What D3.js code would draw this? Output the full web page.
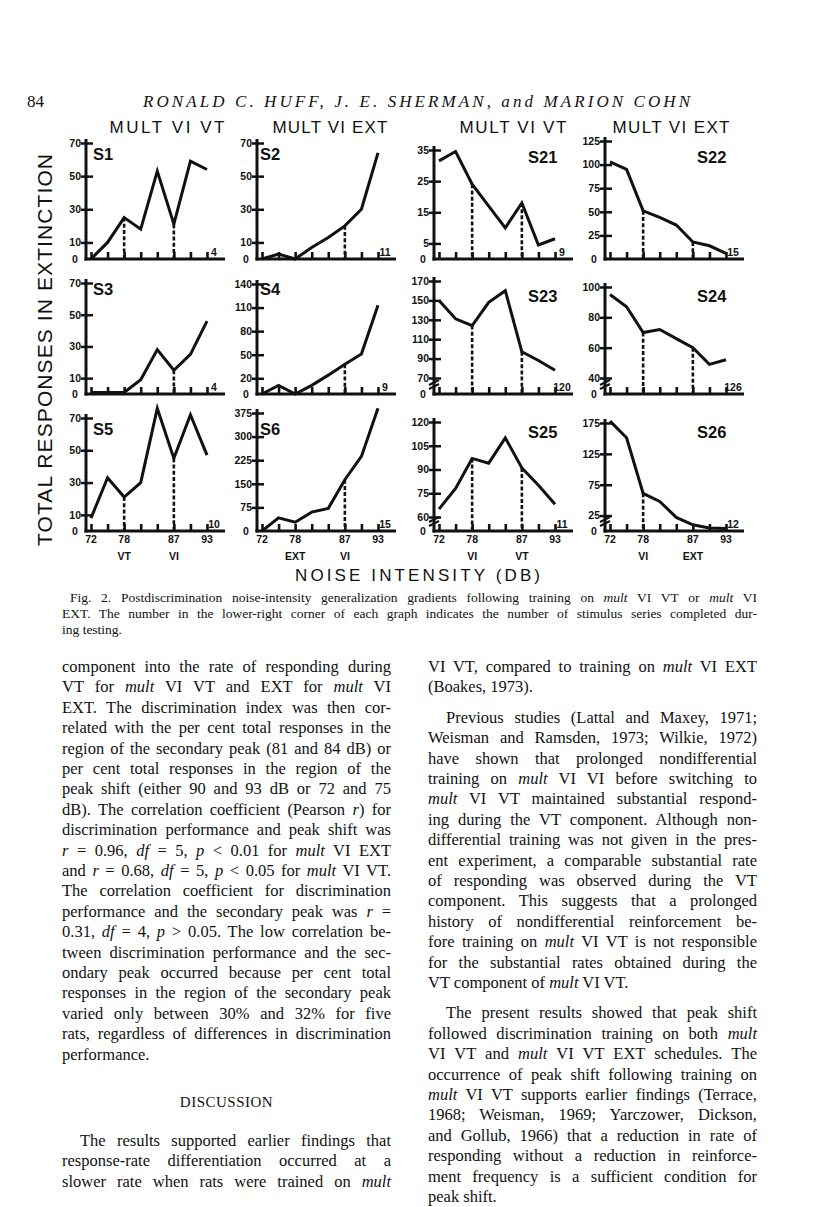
<!DOCTYPE html>
<html>
<head>
<meta charset="utf-8">
<script src="https://cdn.jsdelivr.net/npm/d3@7"></script>
<style>
body { margin: 0; background: #fff; }
svg text { fill: #111; }
</style>
</head>
<body>
<div id="page"></div>
<script>
// noise intensities (dB), same for every graph
const dB = [72, 75, 78, 81, 84, 87, 90, 93];
const dbLabels = [72, 78, 87, 93];

// total responses in extinction
const respS1  = [0, 10, 25, 18, 53, 21, 59, 54];
const respS2  = [0, 3, 0, 7, 13, 20, 30, 64];
const respS3  = [1, 1, 1, 9, 28, 15, 25, 46];
const respS4  = [0, 11, 0, 11, 24, 38, 51, 113];
const respS5  = [8, 33, 21, 30, 76, 45, 72, 47];
const respS6  = [0, 42, 28, 60, 72, 163, 237, 390];
const respS21 = [31.5, 34.5, 24, 17, 10, 18, 4.5, 6.5];
const respS22 = [103, 95, 51, 44, 36, 18, 14, 6];
const respS23 = [150, 131, 124, 148, 160, 97, 88, 78];
const respS24 = [95, 87, 70, 72, 66, 60, 49, 52];
const respS25 = [65, 78, 97, 94, 110, 91, 80, 68];
const respS26 = [178, 151, 61, 48, 22, 10, 5, 4];

// y tick labels
const ticksA   = [0, 10, 30, 50, 70];
const ticksS4  = [0, 20, 50, 80, 110, 140];
const ticksS6  = [0, 75, 150, 225, 300, 375];
const ticksS21 = [0, 5, 15, 25, 35];
const ticksS22 = [0, 25, 50, 75, 100, 125];
const ticksS23 = [0, 70, 90, 110, 130, 150, 170];
const ticksS24 = [0, 40, 60, 80, 100];
const ticksS25 = [0, 60, 75, 90, 105, 120];
const ticksS26 = [0, 25, 75, 125, 175];

// dB values where the dotted drop lines are drawn
const dropS1 = [78, 87], dropS2 = [87], dropS3 = [87], dropS4 = [87];
const dropS5 = [78, 87], dropS6 = [87], dropS21 = [78, 87], dropS22 = [78, 87];
const dropS23 = [78, 87], dropS24 = [78, 87], dropS25 = [78, 87], dropS26 = [78];

// number of stimulus series completed
const seriesDone = [4, 11, 9, 15, 4, 9, 120, 126, 10, 15, 11, 12];

const subjects = ['S1', 'S2', 'S21', 'S22', 'S3', 'S4', 'S23', 'S24', 'S5', 'S6', 'S25', 'S26'];
const colTitles = ['MULT VI VT', 'MULT VI EXT', 'MULT VI VT', 'MULT VI EXT'];
const compLabels = [['VT', 'VI'], ['EXT', 'VI'], ['VI', 'VT'], ['VI', 'EXT']];

const captionLines = [
    'Fig. 2. Postdiscrimination noise-intensity generalization gradients following training on _mult_ VI VT or _mult_ VI',
    'EXT. The number in the lower-right corner of each graph indicates the number of stimulus series completed dur-',
    'ing testing.'
];

const leftLines = [
    'component into the rate of responding during',
    'VT for _mult_ VI VT and EXT for _mult_ VI',
    'EXT. The discrimination index was then cor-',
    'related with the per cent total responses in the',
    'region of the secondary peak (81 and 84 dB) or',
    'per cent total responses in the region of the',
    'peak shift (either 90 and 93 dB or 72 and 75',
    'dB). The correlation coefficient (Pearson _r_) for',
    'discrimination performance and peak shift was',
    '_r_ = 0.96, _df_ = 5, _p_ < 0.01 for _mult_ VI EXT',
    'and _r_ = 0.68, _df_ = 5, _p_ < 0.05 for _mult_ VI VT.',
    'The correlation coefficient for discrimination',
    'performance and the secondary peak was _r_ =',
    '0.31, _df_ = 4, _p_ > 0.05. The low correlation be-',
    'tween discrimination performance and the sec-',
    'ondary peak occurred because per cent total',
    'responses in the region of the secondary peak',
    'varied only between 30% and 32% for five',
    'rats, regardless of differences in discrimination',
    'performance.'
];
const discussLines = [
    'The results supported earlier findings that',
    'response-rate differentiation occurred at a',
    'slower rate when rats were trained on _mult_'
];
const rightLines = [
    'VI VT, compared to training on _mult_ VI EXT',
    '(Boakes, 1973).',
    'Previous studies (Lattal and Maxey, 1971;',
    'Weisman and Ramsden, 1973; Wilkie, 1972)',
    'have shown that prolonged nondifferential',
    'training on _mult_ VI VI before switching to',
    '_mult_ VI VT maintained substantial respond-',
    'ing during the VT component. Although non-',
    'differential training was not given in the pres-',
    'ent experiment, a comparable substantial rate',
    'of responding was observed during the VT',
    'component. This suggests that a prolonged',
    'history of nondifferential reinforcement be-',
    'fore training on _mult_ VI VT is not responsible',
    'for the substantial rates obtained during the',
    'VT component of _mult_ VI VT.',
    'The present results showed that peak shift',
    'followed discrimination training on both _mult_',
    'VI VT and _mult_ VI VT EXT schedules. The',
    'occurrence of peak shift following training on',
    '_mult_ VI VT supports earlier findings (Terrace,',
    '1968; Weisman, 1969; Yarczower, Dickson,',
    'and Gollub, 1966) that a reduction in rate of',
    'responding without a reduction in reinforce-',
    'ment frequency is a sufficient condition for',
    'peak shift.'
];

// ---- layout ----
const colX = [86, 257, 434, 605];      // y axis position of each column
const rowY = [259, 394, 531];          // x axis (zero) line of each row
const panelH = [116, 116, 109, 118, 111, 110, 113, 107, 113, 118, 109, 108];
const breakGap = [0, 0, 0, 0, 0, 0, 16, 16, 0, 0, 14, 0];
const breakMark = [0, 0, 0, 0, 0, 0, 1, 1, 0, 0, 1, 1];

const panelData = [respS1, respS2, respS21, respS22, respS3, respS4, respS23, respS24, respS5, respS6, respS25, respS26];
const panelTicks = [ticksA, ticksA, ticksS21, ticksS22, ticksA, ticksS4, ticksS23, ticksS24, ticksA, ticksS6, ticksS25, ticksS26];
const panelDrops = [dropS1, dropS2, dropS21, dropS22, dropS3, dropS4, dropS23, dropS24, dropS5, dropS6, dropS25, dropS26];

const sans = 'Liberation Sans, Arial, sans-serif';
const serif = 'Liberation Serif, Times New Roman, serif';

const svg = d3.select('#page')
    .append('svg')
    .attr('width', 816)
    .attr('height', 1207);

// header
svg.append('text')
    .attr('x', 27).attr('y', 107)
    .style('font-family', serif).style('font-size', '17px')
    .text('84');
svg.append('text')
    .attr('x', 143).attr('y', 107)
    .style('font-family', serif).style('font-size', '17px').style('font-style', 'italic')
    .attr('textLength', 547).attr('lengthAdjust', 'spacing')
    .text('RONALD C. HUFF, J. E. SHERMAN, and MARION COHN');

// column titles
const titleX = [167, 330, 513, 671], titleW = [115, 115, 107, 117];
svg.selectAll('.coltitle')
    .data(colTitles)
    .join('text')
    .attr('class', 'coltitle')
    .attr('x', (d, i) => titleX[i] - titleW[i] / 2)
    .attr('y', 133)
    .attr('textLength', (d, i) => titleW[i])
    .attr('lengthAdjust', 'spacing')
    .style('font-family', sans).style('font-size', '17px')
    .text(d => d);

// y title
svg.append('text')
    .attr('transform', 'translate(52,350) rotate(-90)')
    .attr('x', -196).attr('y', 0)
    .attr('textLength', 392).attr('lengthAdjust', 'spacing')
    .style('font-family', sans).style('font-size', '21px')
    .text('TOTAL RESPONSES IN EXTINCTION');

// x title
svg.append('text')
    .attr('x', 295).attr('y', 581)
    .attr('textLength', 245).attr('lengthAdjust', 'spacing')
    .style('font-family', sans).style('font-size', '17px')
    .text('NOISE INTENSITY (DB)');

// ---- the twelve graphs ----
subjects.forEach((name, i) => {
    const col = i % 4, row = Math.floor(i / 4);
    const x0 = colX[col], y0 = rowY[row], h = panelH[i];
    const ticks = panelTicks[i];
    const top = ticks[ticks.length - 1];
    const brk = breakGap[i];

    const x = d3.scaleLinear().domain([72, 93]).range([x0 + 5, x0 + 121]);
    const y = brk
        ? d3.scaleLinear().domain([ticks[1], top]).range([y0 - brk, y0 - h])
        : d3.scaleLinear().domain([0, top]).range([y0, y0 - h]);

    const g = svg.append('g').attr('class', 'panel ' + name);

    // axis lines
    g.append('line')
        .attr('x1', x0).attr('x2', x0)
        .attr('y1', y0 + 1.5).attr('y2', y0 - h - 4)
        .attr('stroke', '#111').attr('stroke-width', 3);
    g.append('line')
        .attr('x1', x0 - 1.5).attr('x2', x0 + 139)
        .attr('y1', y0).attr('y2', y0)
        .attr('stroke', '#111').attr('stroke-width', 3);

    // y ticks
    const yAxis = d3.axisLeft(y)
        .tickValues(ticks.slice(1))
        .tickSize(-7)
        .tickPadding(5)
        .tickFormat(d3.format('d'));
    const gy = g.append('g')
        .attr('transform', 'translate(' + x0 + ',0)')
        .call(yAxis);
    gy.select('.domain').remove();
    gy.selectAll('line').attr('x1', -5).attr('stroke', '#111').attr('stroke-width', 2.5);
    gy.selectAll('text')
        .style('font-family', sans).style('font-size', '10.5px').style('font-weight', 'bold')
        .attr('fill', '#111');

    g.append('text')
        .attr('x', x0 - 11).attr('y', y0 + 4)
        .attr('text-anchor', 'middle')
        .style('font-family', sans).style('font-size', '10.5px').style('font-weight', 'bold')
        .text('0');

    if (breakMark[i]) {
        [0, 4].forEach(off => {
            g.append('line')
                .attr('x1', x0 - 5).attr('x2', x0 + 5)
                .attr('y1', y0 - 5 - off).attr('y2', y0 - 10 - off)
                .attr('stroke', '#111').attr('stroke-width', 2);
        });
    }

    // x ticks
    const xAxis = d3.axisBottom(x)
        .tickValues(dB)
        .tickSize(-7)
        .tickFormat('');
    const gx = g.append('g')
        .attr('transform', 'translate(0,' + y0 + ')')
        .call(xAxis);
    gx.select('.domain').remove();
    gx.selectAll('line').attr('stroke', '#111').attr('stroke-width', 2.6);

    const pts = dB.map((d, k) => ({db: d, v: panelData[i][k]}));

    // dotted drop lines
    g.selectAll('.drop')
        .data(pts.filter(p => panelDrops[i].includes(p.db)))
        .join('line')
        .attr('class', 'drop')
        .attr('x1', d => x(d.db)).attr('x2', d => x(d.db))
        .attr('y1', d => y(d.v)).attr('y2', y0)
        .attr('stroke', '#111').attr('stroke-width', 2.6)
        .attr('stroke-dasharray', '4,2.2');

    // gradient
    const line = d3.line()
        .x(d => x(d.db))
        .y(d => y(d.v));
    g.append('path')
        .datum(pts)
        .attr('d', line)
        .attr('fill', 'none')
        .attr('stroke', '#111')
        .attr('stroke-width', 3)
        .attr('stroke-linejoin', 'miter');

    // subject label
    const leftSide = col < 2;
    const labX = leftSide ? x0 + [7, 3][col] : x0 + [94, 92][col - 2];
    const labY = leftSide ? [160, 295, 435][row] : [163, 302, 438][row];
    g.append('text')
        .attr('x', labX).attr('y', labY)
        .style('font-family', sans).style('font-size', '16.5px').style('font-weight', 'bold')
        .text(name);

    // series completed
    g.append('text')
        .attr('x', x0 + 128).attr('y', y0 - 3)
        .attr('text-anchor', 'middle')
        .style('font-family', sans).style('font-size', '10.5px').style('font-weight', 'bold')
        .text(seriesDone[i]);

    // bottom row: dB labels and components
    if (row === 2) {
        g.selectAll('.xl')
            .data(dbLabels)
            .join('text')
            .attr('class', 'xl')
            .attr('x', d => x(d)).attr('y', y0 + 12)
            .attr('text-anchor', 'middle')
            .style('font-family', sans).style('font-size', '10.5px').style('font-weight', 'bold')
            .text(d => d);
        g.selectAll('.cl')
            .data(compLabels[col])
            .join('text')
            .attr('class', 'cl')
            .attr('x', (d, k) => x([78, 87][k])).attr('y', y0 + 29)
            .attr('text-anchor', 'middle')
            .style('font-family', sans).style('font-size', '10.5px').style('font-weight', 'bold')
            .text(d => d);
    }
});

// ---- text blocks ----
// justified by widening the word gaps, like the typeset page
function textLine(parent, str, xPos, yPos, width, size, justify) {
    const t = parent.append('text')
        .attr('x', xPos).attr('y', yPos)
        .style('font-family', serif).style('font-size', size + 'px');
    str.split('_').forEach((part, k) => {
        if (!part) return;
        t.append('tspan')
            .style('font-style', k % 2 ? 'italic' : 'normal')
            .text(part);
    });
    if (justify) {
        const w = t.node().getComputedTextLength();
        const gaps = (str.match(/ /g) || []).length;
        const extra = gaps ? (width - w) / gaps : 0;
        if (gaps && extra > -1.5) t.style('word-spacing', extra + 'px');
        else t.attr('textLength', width).attr('lengthAdjust', 'spacing');
    }
    return t;
}

const lineGap = 20.4, paraGap = 10;
const colLeft = [62, 428], colW = 329, indent = 18;
const bodySize = 16.5;

captionLines.forEach((s, k) => {
    const xs = k === 0 ? 70 : 62;
    textLine(svg, s, xs, 602 + k * 16, 757 - xs, 13.5, k < 2);
});

leftLines.forEach((s, k) => {
    textLine(svg, s, colLeft[0], 672 + k * lineGap, colW, bodySize, k < leftLines.length - 1);
});

svg.append('text')
    .attr('x', colLeft[0] + colW / 2).attr('y', 1107)
    .attr('text-anchor', 'middle')
    .style('font-family', serif).style('font-size', '15px')
    .style('letter-spacing', '0.5px')
    .text('DISCUSSION');

discussLines.forEach((s, k) => {
    const xs = colLeft[0] + (k === 0 ? indent : 0);
    textLine(svg, s, xs, 1146 + k * lineGap, colLeft[0] + colW - xs, bodySize, true);
});

const paraStart = [2, 16];
const paraEnd = [1, 15, 25];
rightLines.forEach((s, k) => {
    const xs = colLeft[1] + (paraStart.includes(k) ? indent : 0);
    const extraGap = paraStart.filter(p => k >= p).length * paraGap;
    textLine(svg, s, xs, 672 + k * lineGap + extraGap, colLeft[1] + colW - xs, bodySize, !paraEnd.includes(k));
});
</script>
</body>
</html>
